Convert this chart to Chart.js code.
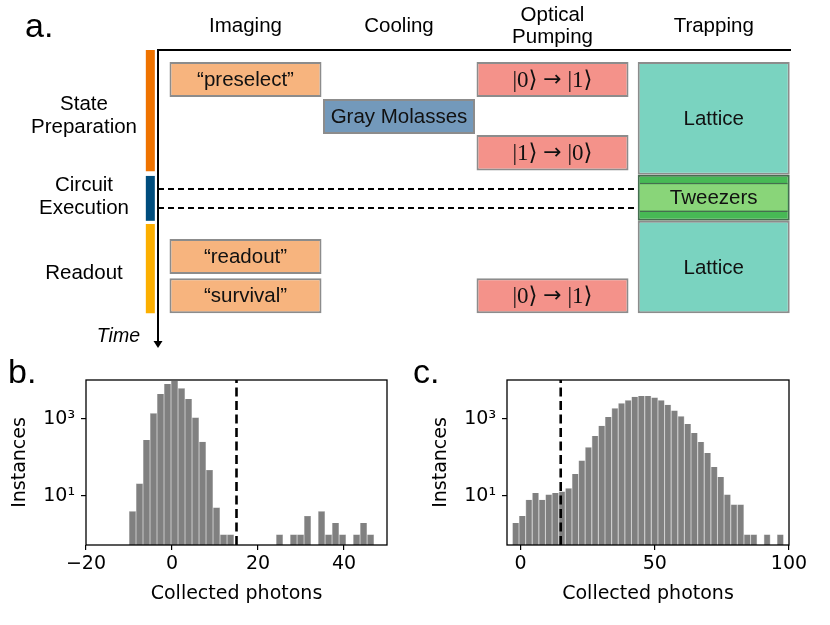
<!DOCTYPE html>
<html><head><meta charset="utf-8">
<script src="https://cdn.jsdelivr.net/npm/chart.js@4.4.1/dist/chart.umd.min.js"></script>
<style>
html,body{margin:0;padding:0;background:#fff;}
#wrap{position:relative;width:830px;height:625px;overflow:hidden;background:#fff;}
canvas{position:absolute;}
.plabel{position:absolute;font-family:'Liberation Sans',Arial,sans-serif;font-size:34px;line-height:34px;color:#000;}
</style></head><body>
<div id="wrap">
<canvas id="ca" width="830" height="352" style="left:0;top:0"></canvas>
<canvas id="cb" width="400" height="275" style="left:0;top:350px"></canvas>
<canvas id="cc" width="430" height="275" style="left:400px;top:350px"></canvas>
<div class="plabel" style="left:25px;top:8px">a.</div>
<div class="plabel" style="left:8px;top:354px">b.</div>
<div class="plabel" style="left:413px;top:354px">c.</div>
</div>
<script>
// ---------- panel a: sequence diagram data ----------
const STAGES = ['Imaging', 'Cooling', ['Optical', 'Pumping'], 'Trapping'];
const STAGE_POS = [0, 1, 2, 3.05];
const ROWS = [['State', 'Preparation'], ['Circuit', 'Execution'], ['Readout']];
const ROW_LABEL_T = [1.81, 4.03, 6.12];
const ROW_START = [0, 3.45, 4.77];
const ROW_END = [3.32, 4.68, 7.21];
const STEP_TEXT = ['\u201Cpreselect\u201D', 'Gray Molasses', '|0\u27E9 \u2192 |1\u27E9', '|1\u27E9 \u2192 |0\u27E9', 'Lattice', 'Tweezers', 'Lattice', '\u201Creadout\u201D', '\u201Csurvival\u201D', '|0\u27E9 \u2192 |1\u27E9'];
const STEP_STAGE = [0, 1, 2, 2, 3, 3, 3, 0, 0, 2];
const STEP_START = [0.33, 1.34, 0.33, 2.33, 0.33, 3.42, 4.68, 5.18, 6.25, 6.25];
const STEP_END = [1.29, 2.30, 1.29, 3.30, 3.42, 4.68, 7.21, 6.14, 7.21, 7.21];
const STEP_KIND = ['image', 'cool', 'pump', 'pump', 'lattice', 'tweezer', 'lattice', 'image', 'image', 'pump'];
const TWEEZER_CORE = [3.64, 4.44];
const CIRCUIT_BOUNDS = [3.81, 4.33];
const TIME_MIN = 0, TIME_MAX = 8;

// ---------- panels b, c: histograms ----------
const B_BIN_START = -10, B_BIN_END = 47;
const B_COUNTS = [4, 21, 285, 1400, 4460, 8100, 9700, 6300, 3300, 1100, 258, 47, 5, 1, 1, 0, 0, 0, 0, 0, 0, 1, 0, 1, 1, 3, 0, 4, 1, 2, 1, 0, 1, 2, 1];
const C_BIN_START = -3, C_BIN_END = 98;
const C_COUNTS = [2, 3, 8, 12, 8, 11, 12, 13, 16, 37, 83, 184, 363, 670, 1130, 1900, 2570, 3060, 3800, 3950, 3950, 3640, 3060, 2350, 1670, 1180, 740, 430, 252, 130, 57, 31, 11, 6, 6, 1, 1, 0, 1, 0, 1];
const THRESHOLD = 15;
const B_X_TICKS = [-20, 0, 20, 40];
const C_X_TICKS = [0, 50, 100];
const Y_TICKS = [10, 1000];
const Y_TICK_LABELS = ['10\u00B9', '10\u00B3'];

// ---------- styles ----------
const SANS = '"Liberation Sans", Arial, sans-serif';
const SERIF = '"Liberation Serif", "DejaVu Serif", serif';
const KIND_FILL = {image: '#f7b47e', cool: '#7399bb', pump: '#f4928a', lattice: '#7ad3c0', tweezer: '#47b955'};
const KIND_EDGE = {image: '#8c8c8c', cool: '#8c8c8c', pump: '#8c8c8c', lattice: '#8c8c8c', tweezer: '#456e4f'};
const ROW_COLORS = ['#ef7300', '#004d7d', '#fcaf00'];
const X_MIN = -0.57, X_MAX = 3.547, ROW_BAR_X = -0.62;

Chart.defaults.color = '#000';
Chart.defaults.font.family = SANS;

function drawMathLabel(ctx, text, cx, cy) {
  // split around the arrow so the arrow can use a longer glyph
  const parts = text.split('\u2192');
  const segs = [
    {t: parts[0], f: '23px ' + SERIF},
    {t: '\u2192', f: '22px "DejaVu Sans", sans-serif'},
    {t: parts[1], f: '23px ' + SERIF}
  ];
  let total = 0;
  segs.forEach(s => { ctx.font = s.f; s.w = ctx.measureText(s.t).width; total += s.w; });
  let x = cx - total / 2;
  ctx.textAlign = 'left';
  segs.forEach(s => { ctx.font = s.f; ctx.fillText(s.t, x, cy); x += s.w; });
}

const boxLabelPlugin = {
  id: 'boxLabels',
  afterDatasetsDraw(chart) {
    const ctx = chart.ctx;
    chart.data.datasets.forEach((ds, di) => {
      if (!ds.boxLabels) return;
      const meta = chart.getDatasetMeta(di);
      meta.data.forEach((el, i) => {
        const t = ds.boxLabels[i];
        const cy = (el.y + el.base) / 2 + 1;
        ctx.save();
        ctx.fillStyle = '#111';
        ctx.textBaseline = 'middle';
        if (t.indexOf('\u2192') >= 0) {
          drawMathLabel(ctx, t, el.x, cy);
        } else {
          ctx.font = '20.5px ' + SANS;
          ctx.textAlign = 'center';
          ctx.fillText(t, el.x, cy);
        }
        ctx.restore();
      });
    });
  }
};

const timeArrowPlugin = {
  id: 'timeArrow',
  afterDraw(chart) {
    const {ctx, chartArea} = chart;
    const x = chartArea.left, y = chartArea.bottom;
    ctx.save();
    ctx.fillStyle = '#000';
    ctx.beginPath();
    ctx.moveTo(x - 4.5, y - 1);
    ctx.lineTo(x + 4.5, y - 1);
    ctx.lineTo(x, y + 6);
    ctx.closePath();
    ctx.fill();
    ctx.font = 'italic 19.5px ' + SANS;
    ctx.textAlign = 'right';
    ctx.textBaseline = 'alphabetic';
    ctx.fillText('Time', x - 18, y);
    ctx.restore();
  }
};

new Chart(document.getElementById('ca'), {
  type: 'bar',
  data: {
    datasets: [
      {
        data: STEP_STAGE.map((s, i) => ({x: STAGE_POS[s], y: [STEP_START[i], STEP_END[i]]})),
        boxLabels: STEP_TEXT,
        backgroundColor: STEP_KIND.map(k => KIND_FILL[k]),
        borderColor: STEP_KIND.map(k => KIND_EDGE[k]),
        borderWidth: 2, borderSkipped: false, barThickness: 152, grouped: false, inflateAmount: 0, order: 1
      },
      {
        data: [{x: STAGE_POS[3], y: TWEEZER_CORE}],
        backgroundColor: '#89d579', borderColor: '#456e4f',
        borderWidth: {top: 1.5, bottom: 1.5, left: 0, right: 0}, borderSkipped: false,
        barThickness: 148, grouped: false, inflateAmount: 0, order: 0
      },
      {
        data: ROW_START.map((s, i) => ({x: ROW_BAR_X, y: [s, ROW_END[i]]})),
        backgroundColor: ROW_COLORS, borderWidth: 0, barThickness: 9, grouped: false,
        inflateAmount: 0, clip: false, order: 2
      },
      {
        type: 'line',
        data: [{x: X_MIN, y: CIRCUIT_BOUNDS[0]}, {x: STAGE_POS[3] - 0.5, y: CIRCUIT_BOUNDS[0]}],
        borderColor: '#000', borderWidth: 2, borderDash: [6, 4], pointRadius: 0, order: 3
      },
      {
        type: 'line',
        data: [{x: X_MIN, y: CIRCUIT_BOUNDS[1]}, {x: STAGE_POS[3] - 0.5, y: CIRCUIT_BOUNDS[1]}],
        borderColor: '#000', borderWidth: 2, borderDash: [6, 4], pointRadius: 0, order: 3
      }
    ]
  },
  options: {
    responsive: false, animation: false, events: [],
    layout: {padding: {left: 0, top: 0, right: 40, bottom: 10}},
    plugins: {legend: {display: false}, tooltip: {enabled: false}},
    scales: {
      x: {
        type: 'linear', position: 'top', min: X_MIN, max: X_MAX, bounds: 'data', offset: false,
        afterBuildTicks: a => { a.ticks = STAGE_POS.map(v => ({value: v})); },
        afterFit: a => { a.height = 50; a.paddingLeft = 0; a.paddingRight = 0; },
        ticks: {
          callback: (v, i) => STAGES[i], crossAlign: 'center', padding: 13, maxRotation: 0, autoSkip: false,
          font: {family: SANS, size: 20.5, lineHeight: 1.05}, color: '#000'
        },
        grid: {display: false, drawTicks: false, offset: false},
        border: {display: true, color: '#000', width: 2}
      },
      y: {
        type: 'linear', reverse: true, min: TIME_MIN, max: TIME_MAX, bounds: 'data',
        afterBuildTicks: a => { a.ticks = ROW_LABEL_T.map(v => ({value: v})); },
        afterFit: a => { a.width = 158; a.paddingTop = 0; a.paddingBottom = 0; },
        ticks: {
          callback: (v, i) => ROWS[i], crossAlign: 'center', padding: 21, autoSkip: false,
          font: {family: SANS, size: 20.5, lineHeight: 1.1}, color: '#000'
        },
        grid: {display: false, drawTicks: false},
        border: {display: true, color: '#000', width: 2}
      }
    }
  },
  plugins: [boxLabelPlugin, timeArrowPlugin]
});

// ---------- histogram panels ----------
const Y_MIN = 0.533, Y_MAX = 10300;
const DEJAVU = '"DejaVu Sans", sans-serif';
const framePlugin = {
  id: 'frame',
  afterDraw(chart) {
    const {ctx, chartArea: {left, top, right, bottom}} = chart;
    ctx.save();
    ctx.strokeStyle = '#000';
    ctx.lineWidth = 1.3;
    ctx.strokeRect(left, top, right - left, bottom - top);
    ctx.restore();
  }
};

function histChart(id, counts, binStart, binEnd, xMin, xMax, xTicks, pad) {
  const w = (binEnd - binStart) / counts.length;
  return new Chart(document.getElementById(id), {
    type: 'bar',
    data: {
      datasets: [
        {
          type: 'line',
          data: [{x: THRESHOLD, y: Y_MIN}, {x: THRESHOLD, y: Y_MAX}],
          borderColor: '#000', borderWidth: 2.6, borderDash: [9, 4.5], pointRadius: 0, order: 0
        },
        {
          data: counts.map((c, i) => ({x: binStart + (i + 0.5) * w, y: c})),
          backgroundColor: '#808080', borderColor: '#929292',
          borderWidth: {left: 0.5, right: 0.5, top: 0, bottom: 0}, borderSkipped: false,
          barPercentage: 1, categoryPercentage: 1, inflateAmount: 0, order: 1
        }
      ]
    },
    options: {
      responsive: false, animation: false, events: [],
      layout: {padding: pad},
      plugins: {legend: {display: false}, tooltip: {enabled: false}},
      scales: {
        x: {
          type: 'linear', min: xMin, max: xMax, bounds: 'data', offset: false,
          afterBuildTicks: a => { a.ticks = xTicks.map(v => ({value: v})); },
          afterFit: a => { a.height = 80; },
          ticks: {
            callback: v => (v < 0 ? '\u2212' + Math.abs(v) : String(v)),
            font: {family: DEJAVU, size: 19}, color: '#000', padding: 3, maxRotation: 0, autoSkip: false
          },
          grid: {drawOnChartArea: false, drawTicks: true, tickLength: 5, color: '#000', lineWidth: 1.2, offset: false},
          border: {display: false},
          title: {display: true, text: 'Collected photons', font: {family: DEJAVU, size: 19}, color: '#000', padding: {top: 0, bottom: 20}}
        },
        y: {
          type: 'logarithmic', min: Y_MIN, max: Y_MAX, bounds: 'data',
          afterBuildTicks: a => { a.ticks = Y_TICKS.map(v => ({value: v, major: true})); },
          afterFit: a => { a.width = 86; a.paddingTop = 0; a.paddingBottom = 0; },
          ticks: {
            callback: v => Y_TICK_LABELS[Y_TICKS.indexOf(v)],
            font: {family: DEJAVU, size: 19}, color: '#000', padding: 6, autoSkip: false
          },
          grid: {drawOnChartArea: false, drawTicks: true, tickLength: 5, color: '#000', lineWidth: 1.2},
          border: {display: false},
          title: {display: true, text: 'Instances', font: {family: DEJAVU, size: 19}, color: '#000', padding: {top: 9, bottom: 0}}
        }
      }
    },
    plugins: [framePlugin]
  });
}

histChart('cb', B_COUNTS, B_BIN_START, B_BIN_END, -20, 50, B_X_TICKS, {left: 0, top: 30, right: 13, bottom: 0});
histChart('cc', C_COUNTS, C_BIN_START, C_BIN_END, -5, 100, C_X_TICKS, {left: 21, top: 30, right: 41, bottom: 0});
</script>
</body></html>
